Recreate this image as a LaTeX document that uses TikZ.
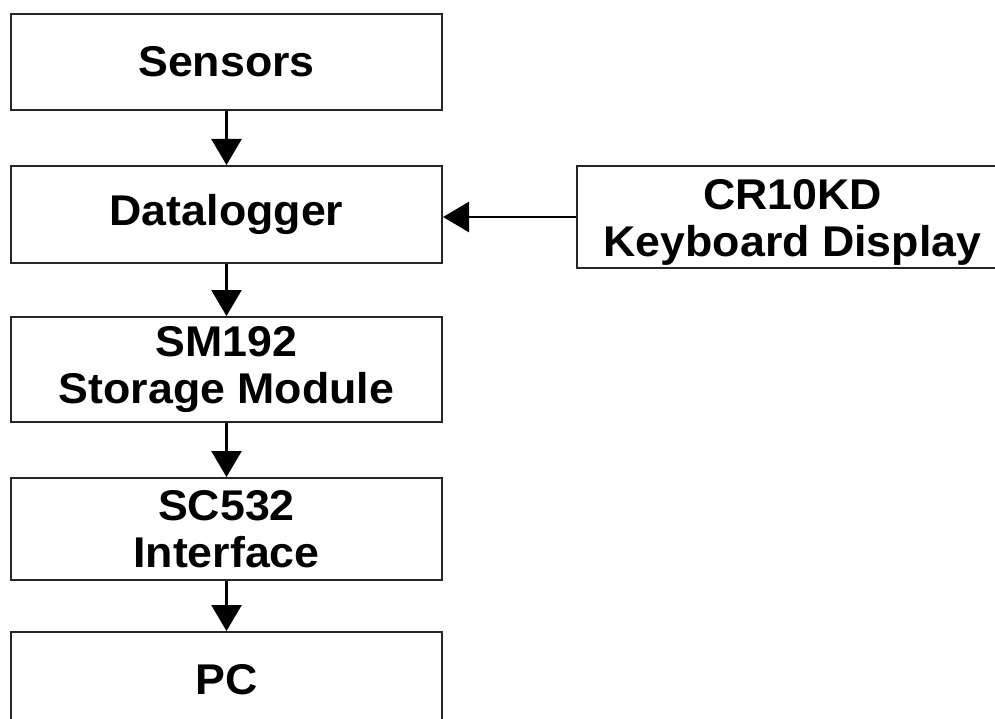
\documentclass[tikz,border=0pt]{standalone}
\usepackage{fontspec}
\setmainfont{Liberation Sans}[FakeStretch=1.04]
\usepackage{tikz}
\usetikzlibrary{arrows.meta}

\tikzset{
  blocktext/.style={align=center, font=\fontsize{43}{47}\selectfont\bfseries, inner sep=0pt},
  block/.style={blocktext, draw=black!85, line width=2pt, fill=white, minimum width=431pt},
  flow/.style={line width=2.6pt, -{Triangle[width=30pt,length=26pt]}}
}

\begin{document}
\begin{tikzpicture}[x=1pt,y=-1pt]
    % Frame
    \clip (0,0) rectangle (995,719);
    \fill[white] (0,0) rectangle (995,719);

    % Main chain
    \node[block, minimum height=96pt]  (sensors) at (226.5,62)  {Sensors};
    \node[block, minimum height=97pt]  (logger)  at (226.5,214.5) {Datalogger};
    \node[block, minimum height=105pt] (sm)      at (226.5,369.5) {SM192\\Storage Module};
    \node[block, minimum height=102pt] (sc)      at (226.5,529) {SC532\\Interface};
    \node[block, minimum height=96pt]  (pc)      at (226.5,680) {PC};

    % Keyboard display (runs off the right edge)
    \node[block, minimum height=102pt] (kd) at (792.5,217) {};
    \node[blocktext] (kdtext) at ([yshift=-5pt]kd.center) {CR10KD\\Keyboard Display};

    % Arrows
    \draw[flow] (sensors) -- (logger);
    \draw[flow] (logger) -- (sm);
    \draw[flow] (sm) -- (sc);
    \draw[flow] (sc) -- (pc);
    \draw[flow] (kd.west) -- (logger.east |- kd.west);
\end{tikzpicture}
\end{document}
